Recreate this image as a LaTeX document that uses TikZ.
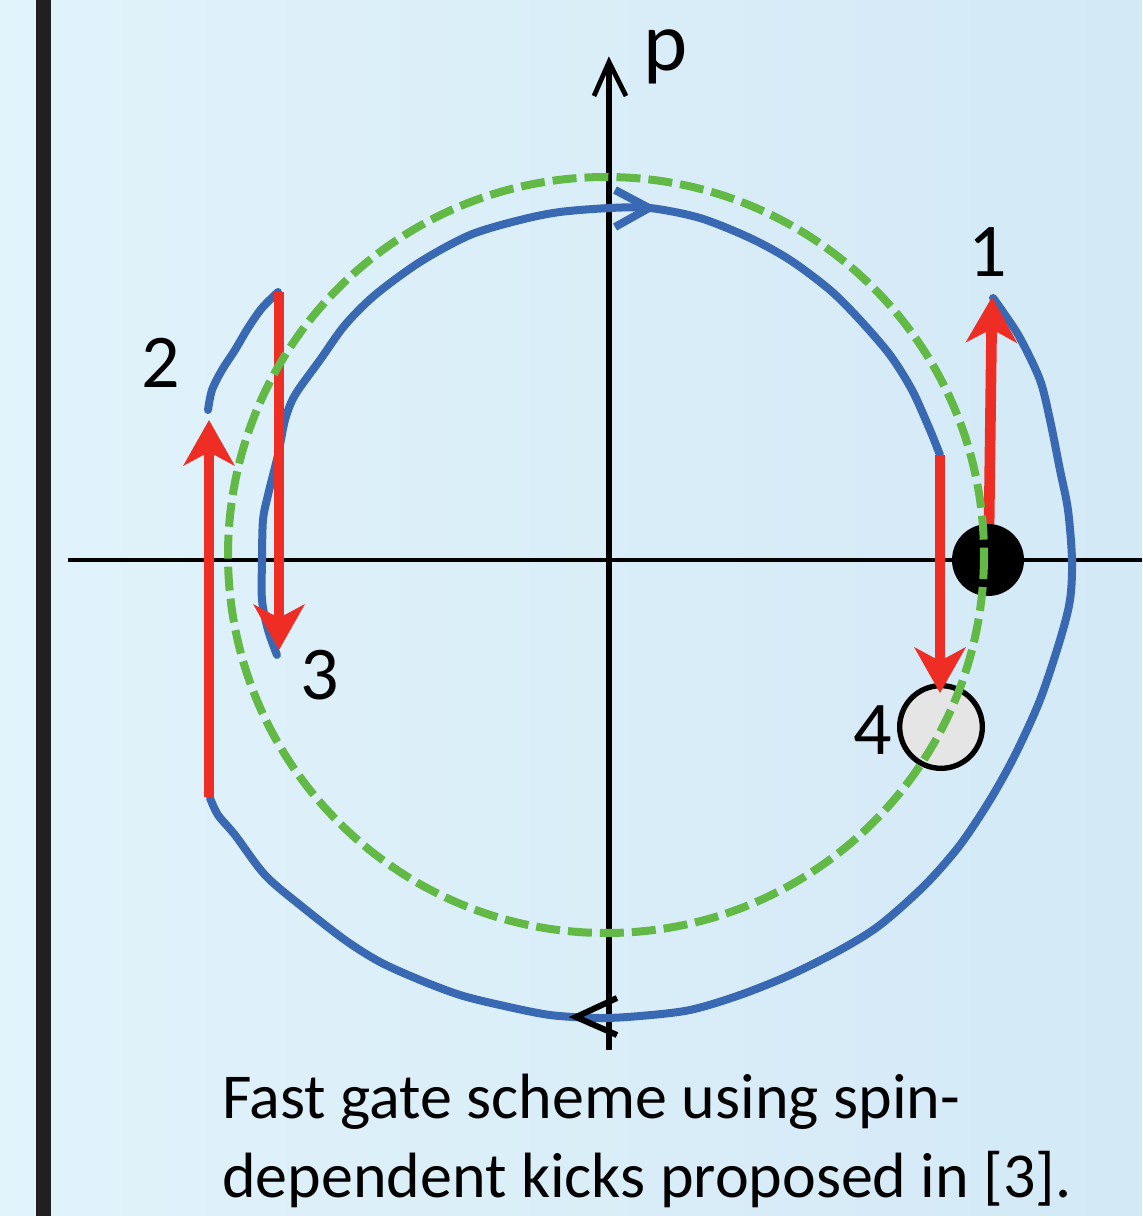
\documentclass[tikz,border=0pt]{standalone}
\usepackage{fontspec}
\setmainfont{Carlito}
\usetikzlibrary{arrows.meta}
\definecolor{bgA}{HTML}{E1F3FB}
\definecolor{bgB}{HTML}{D3E9F6}
\definecolor{trajblue}{HTML}{3A69B4}
\definecolor{kickred}{HTML}{EE2E24}
\definecolor{ringgreen}{HTML}{63B946}
\definecolor{barblack}{HTML}{231F20}
\begin{document}
\begin{tikzpicture}[x=0.75pt,y=-0.75pt,
  traj/.style={draw=trajblue,line width=6pt,line cap=round,line join=round},
  kick/.style={draw=kickred,line width=8pt,-{Stealth[length=34pt,width=38pt,inset=10pt]}},
  axis/.style={draw=black,line width=3.2pt},
  numlabel/.style={font=\fontsize{57}{64}\selectfont,inner sep=0pt},
  ring/.style={draw=ringgreen,line width=6pt,dash pattern=on 18pt off 6pt}]
\useasboundingbox (0,0) rectangle (1142,1216);
\shade[left color=bgA,right color=bgB] (0,0) rectangle (1142,1216);
\fill[barblack] (36,0) rectangle (51,1216);
% axes
\coordinate (xl) at (68,560);
\coordinate (xr) at (1142,560);
\coordinate (yb) at (609,1050);
\coordinate (yt) at (609,62);
\draw[axis] (xl) -- (xr);
\draw[axis,line width=4pt] (yb) -- (yt);
\draw[axis,line width=3.6pt,line join=miter] (594,96) -- (yt) -- (626,96);
\node[font=\fontsize{63}{70}\selectfont,inner sep=0pt] (plabel) at (666,57) {p};
% blue trajectory
\draw[traj] plot[smooth,tension=0.5] coordinates {(993,298) (1003,312) (1020,338) (1040,380) (1050,420) (1060,470) (1068,510) (1072,560) (1070,600) (1060,640) (1040,700) (1015,755) (990,800) (960,845) (925,885) (880,925) (840,950) (790,975) (740,995) (690,1010) (640,1016) (600,1018) (550,1015) (500,1005) (460,995) (420,980) (380,962) (345,940) (300,905) (265,875) (235,835) (218,815) (210,798)};
\draw[traj] plot[smooth,tension=0.5] coordinates {(208,410) (212,390) (222,370) (235,350) (248,328) (262,308) (278,292)};
\draw[traj] plot[smooth,tension=0.5] coordinates {(277,655) (268,630) (262,600) (262,560) (263,520) (268,495) (278,455) (285,420) (295,395) (320,360) (345,325) (375,295) (420,262) (470,235) (520,220) (560,212) (610,208) (650,208) (700,218) (750,238) (790,260) (830,290) (860,320) (890,355) (912,390) (930,430) (940,455)};
\draw[traj,line cap=butt,line join=miter] (615,190) -- (649,208) -- (615,227);
\draw[draw=black,line width=4.5pt] (617,998) -- (576,1017) -- (617,1035);
% kicks
\coordinate (k1a) at (989,530);
\coordinate (k1b) at (992,297);
\coordinate (k2a) at (209,797);
\coordinate (k2b) at (209,420);
\coordinate (k3a) at (279,292);
\coordinate (k3b) at (279,650);
\coordinate (k4a) at (940,455);
\coordinate (k4b) at (940,693);
\draw[kick] (k1a) -- (k1b);
\draw[kick] (k2a) -- (k2b);
\draw[kick] (k3a) -- (k3b);
% states
\fill[black] (988,560) circle[radius=36];
\node[circle,draw=black,fill=black!10,line width=4pt,minimum size=62pt,inner sep=0pt] (s4) at (941,727) {};
\draw[kick] (k4a) -- (k4b);
% free evolution circle
\draw[ring] (606,555) circle[radius=378];
% labels
\node[numlabel] (n1) at (988,252) {1};
\node[numlabel] (n2) at (161,363) {2};
\node[numlabel] (n3) at (320,675) {3};
\node[numlabel] (n4) at (873,730) {4};
\node[anchor=base west,inner sep=0pt,font=\fontsize{48}{59}\selectfont,align=left] (cap) at (222,1197) {Fast gate scheme using spin-\\dependent kicks proposed in [3].};
\end{tikzpicture}
\end{document}
